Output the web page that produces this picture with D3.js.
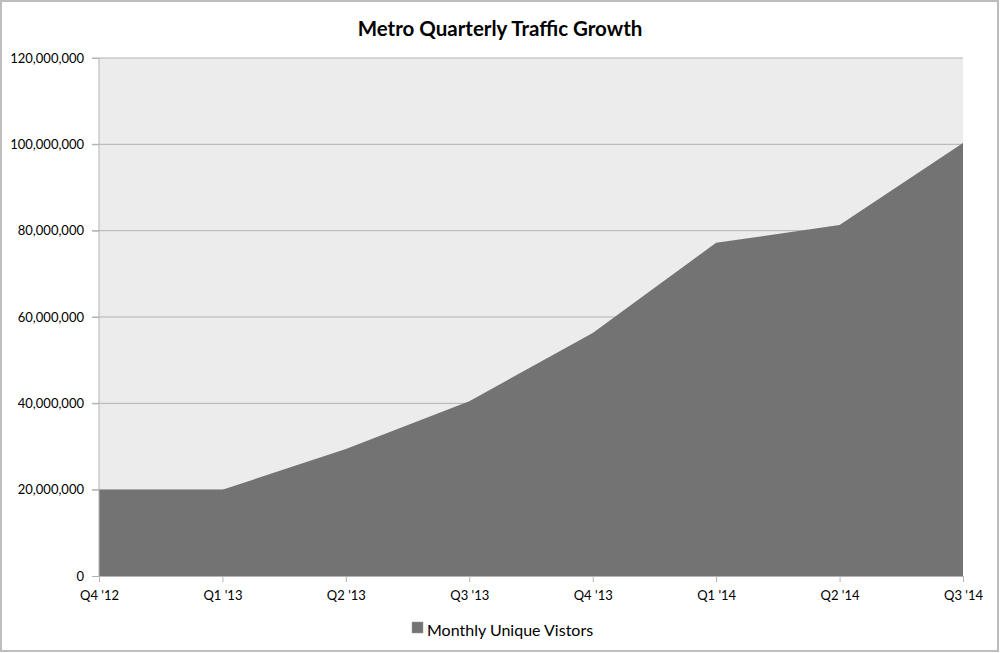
<!DOCTYPE html>
<html>
<head>
<meta charset="utf-8">
<script src="https://cdnjs.cloudflare.com/ajax/libs/d3/7.8.5/d3.min.js"></script>
<style>
    body { margin: 0; background: #fff; }
    svg text { font-family: Lato, "Open Sans", sans-serif; fill: #000; }
</style>
</head>
<body>
<div id="chart"></div>
<script>
(function () {
    'use strict';

    var quarters = ["Q4 '12", "Q1 '13", "Q2 '13", "Q3 '13", "Q4 '13", "Q1 '14", "Q2 '14", "Q3 '14"];
    var visitors = [20000000, 20000000, 29400000, 40500000, 56300000, 77200000, 81300000, 100300000];
    var yTicks = [0, 20000000, 40000000, 60000000, 80000000, 100000000, 120000000];

    var width = 1000, height = 653;
    var margin = { top: 58, right: 37, bottom: 77, left: 99 };

    var svg = d3.select('#chart')
        .append('svg')
        .attr('width', width)
        .attr('height', height);

    // outer frame
    svg.append('rect')
        .attr('x', 1).attr('y', 1)
        .attr('width', width - 3).attr('height', height - 3)
        .style('fill', 'none')
        .style('stroke', '#bdbdbd')
        .style('stroke-width', 2);

    var x = d3.scalePoint()
        .domain(quarters)
        .range([margin.left, width - margin.right]);

    var y = d3.scaleLinear()
        .domain([0, 120000000])
        .range([height - margin.bottom, margin.top]);

    svg.append('rect')
        .attr('x', margin.left)
        .attr('y', margin.top)
        .attr('width', width - margin.right - margin.left)
        .attr('height', height - margin.bottom - margin.top)
        .style('fill', '#ececec');

    // gridlines
    svg.append('g')
        .selectAll('line')
        .data(yTicks.slice(1))
        .enter()
        .append('line')
        .attr('x1', margin.left - 7)
        .attr('x2', width - margin.right)
        .attr('y1', function (d) { return y(d); })
        .attr('y2', function (d) { return y(d); })
        .style('stroke', '#b3b3b3')
        .style('stroke-width', 1);

    var area = d3.area()
        .x(function (d, i) { return x(quarters[i]); })
        .y0(y(0))
        .y1(function (d) { return y(d); });

    svg.append('path')
        .datum(visitors)
        .attr('d', area)
        .style('fill', '#737373');

    var yAxis = svg.append('g')
        .attr('transform', 'translate(' + margin.left + ',0)')
        .call(d3.axisLeft(y)
            .tickValues(yTicks)
            .tickSize(7)
            .tickPadding(8)
            .tickFormat(d3.format(',')));

    var xAxis = svg.append('g')
        .attr('transform', 'translate(0,' + y(0) + ')')
        .call(d3.axisBottom(x)
            .tickSize(6)
            .tickPadding(9));

    [yAxis, xAxis].forEach(function (axis) {
        axis.select('.domain').style('stroke', '#b3b3b3');
        axis.selectAll('.tick line').style('stroke', '#b3b3b3');
        axis.selectAll('.tick text')
            .style('font-size', '13px')
            .style('fill', '#000');
    });
    yAxis.select('.domain').attr('d', 'M0,' + margin.top + 'V' + y(0));

    svg.append('text')
        .attr('x', width / 2)
        .attr('y', 36)
        .attr('text-anchor', 'middle')
        .style('font-size', '20.5px')
        .style('font-weight', 'bold')
        .text('Metro Quarterly Traffic Growth');

    var legend = svg.append('g')
        .attr('transform', 'translate(412,622)');

    legend.append('rect')
        .attr('width', 11)
        .attr('height', 11)
        .style('fill', '#737373')
        .style('stroke', '#9a9a9a')
        .style('stroke-width', 0.5);

    legend.append('text')
        .attr('x', 15)
        .attr('y', 14)
        .style('font-size', '16px')
        .text('Monthly Unique Vistors');
}());
</script>
</body>
</html>
